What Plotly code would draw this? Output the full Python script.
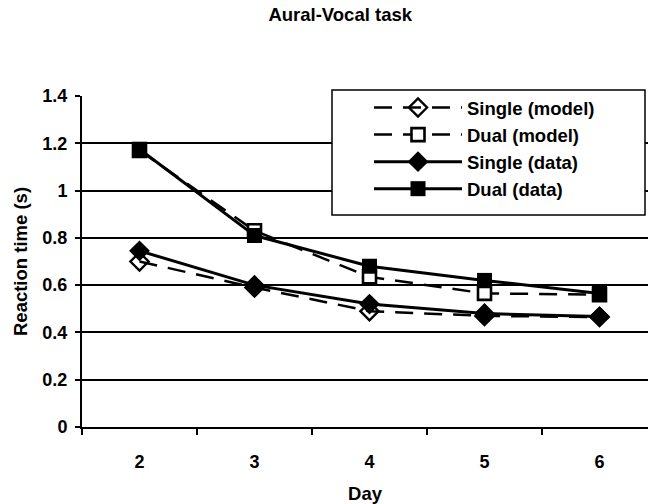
import plotly.graph_objects as go

days = [2, 3, 4, 5, 6]
single_model = [0.70, 0.59, 0.49, 0.47, 0.465]
dual_model = [1.17, 0.83, 0.635, 0.565, 0.56]
single_data = [0.745, 0.60, 0.52, 0.48, 0.467]
dual_data = [1.175, 0.81, 0.68, 0.62, 0.565]

yticks = [0, 0.2, 0.4, 0.6, 0.8, 1, 1.2, 1.4]
ytick_text = ["0", "0.2", "0.4", "0.6", "0.8", "1", "1.2", "1.4"]

FONT = "Liberation Sans"
L, T, B = 82, 96, 77
PW, PH = 648 - L, 504 - T - B


def px_x(p):
    return (p - L) / PW


def px_y(p):
    return (504 - B - p) / PH


fig = go.Figure()

fig.add_trace(go.Scatter(
    x=days, y=single_model, name="<b>Single (model)</b>", mode="lines+markers",
    line=dict(color="black", width=2.5, dash="18px,11px"),
    marker=dict(symbol="diamond-open", size=14, color="black", line=dict(width=2.4)),
    legendgroup="a"))
fig.add_trace(go.Scatter(
    x=days, y=dual_model, name="<b>Dual (model)</b>", mode="lines+markers",
    line=dict(color="black", width=2.5, dash="18px,11px"),
    marker=dict(symbol="square", size=13, color="white", line=dict(width=2.6, color="black")),
    legendgroup="b"))
fig.add_trace(go.Scatter(
    x=days, y=single_data, name="<b>Single (data)</b>", mode="lines+markers",
    line=dict(color="black", width=3),
    marker=dict(symbol="diamond", size=16, color="black"),
    legendgroup="c"))
fig.add_trace(go.Scatter(
    x=days, y=dual_data, name="<b>Dual (data)</b>", mode="lines+markers",
    line=dict(color="black", width=3),
    marker=dict(symbol="square", size=15, color="black"),
    legendgroup="d"))

fig.add_shape(type="rect", xref="paper", yref="paper",
              x0=px_x(332), x1=px_x(645), y0=px_y(215), y1=px_y(90),
              line=dict(color="black", width=1.5), fillcolor="white", layer="above")

fig.update_layout(
    width=648, height=504,
    margin=dict(l=L, r=0, t=T, b=B),
    paper_bgcolor="white", plot_bgcolor="white",
    font=dict(family=FONT, color="black", size=18),
    title=dict(text="<b>Aural-Vocal task</b>", x=0.525, xref="container", xanchor="center",
               y=1 - 15 / 504, yref="container", yanchor="middle",
               font=dict(size=18.5, family=FONT, color="black")),
    showlegend=True,
    legend=dict(x=px_x(369), y=px_y(89), xanchor="left", yanchor="top",
                bgcolor="rgba(0,0,0,0)", borderwidth=0,
                font=dict(size=18.5, family=FONT, color="black"),
                itemwidth=88, traceorder="grouped", tracegroupgap=0),
    xaxis=dict(range=[1.5, 1.5 + PW / 115], tickmode="array", tickvals=days,
               ticktext=[f"<b>{d}</b>" for d in days], ticks="", showgrid=False,
               showline=True, linecolor="black", linewidth=2, zeroline=False,
               ticklabelstandoff=17,
               tickfont=dict(size=18, family=FONT, color="black"),
               minor=dict(tickmode="array", tickvals=[1.5, 2.5, 3.5, 4.5, 5.5],
                          ticks="outside", ticklen=6, tickcolor="black", tickwidth=1.5,
                          showgrid=False),
               title=dict(text="<b>Day</b>", standoff=16,
                          font=dict(size=18.5, family=FONT, color="black"))),
    yaxis=dict(range=[0, 1.4], tickmode="array", tickvals=yticks,
               ticktext=[f"<b>{t}</b>" for t in ytick_text],
               showgrid=True, gridcolor="black", gridwidth=1.5,
               ticks="outside", ticklen=5, tickcolor="black", tickwidth=1.5,
               showline=True, linecolor="black", linewidth=2, zeroline=False,
               ticklabelstandoff=4,
               tickfont=dict(size=18, family=FONT, color="black"),
               title=dict(text="<b>Reaction time (s)</b>", standoff=10,
                          font=dict(size=18.5, family=FONT, color="black"))),
)

fig.write_html("out.html")
